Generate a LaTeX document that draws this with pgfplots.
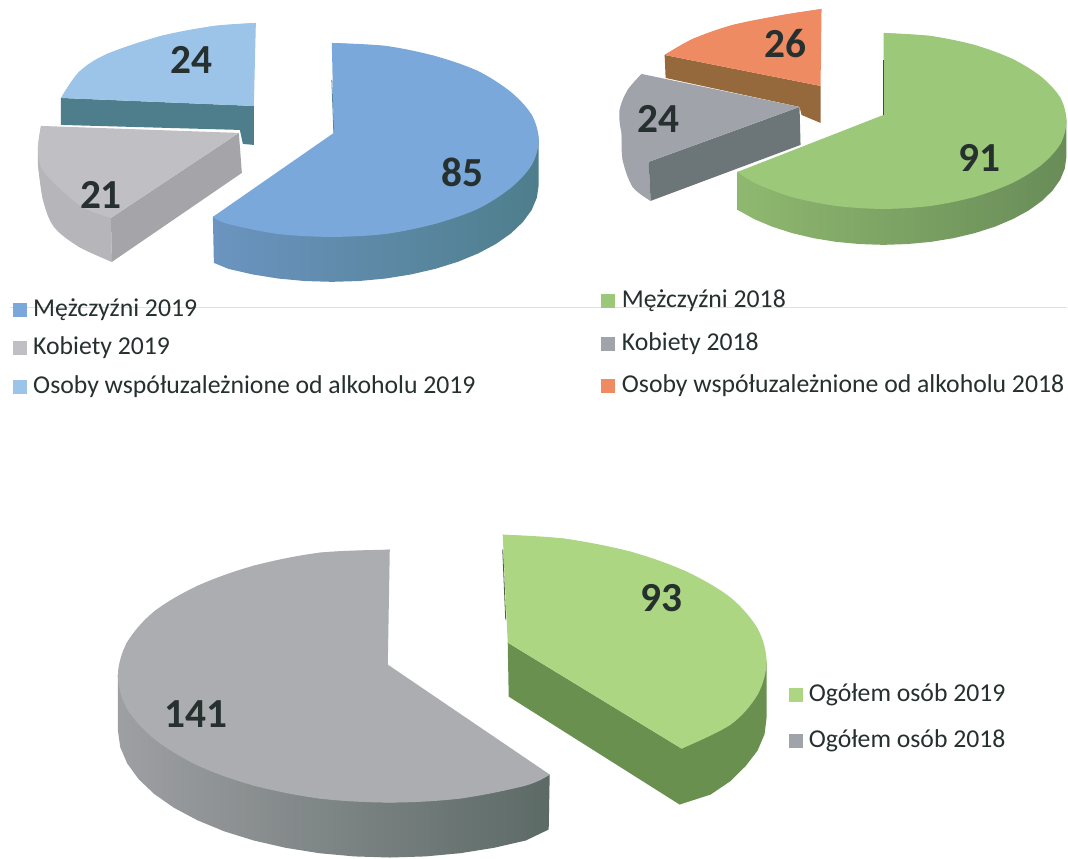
\documentclass[border=0pt]{standalone}
\usepackage{pgfplots}
\pgfplotsset{compat=1.18}
\usepackage{fontspec}
\setmainfont{Carlito}
\definecolor{ablue}{HTML}{7AA8DA}
\definecolor{lblue}{HTML}{9CC3E8}
\definecolor{lgray}{HTML}{C0C0C4}
\definecolor{agreen}{HTML}{9BC879}
\definecolor{aorange}{HTML}{EE8B62}
\definecolor{mgray}{HTML}{A0A4AA}
\definecolor{bgray}{HTML}{ACADB1}
\definecolor{bgreen}{HTML}{ACD681}
\definecolor{txt}{HTML}{26302F}
\definecolor{slate}{HTML}{4E7E8C}
\tikzset{
  lab/.style={font=\fontsize{31}{31}\selectfont\bfseries, text=txt, inner sep=0pt},
  leg/.style={font=\fontsize{19.3}{19.3}\selectfont, text=txt, anchor=west, inner sep=0pt},
}
\pgfplotsset{
  flat/.style={draw=none, mark=none},
  poly/.style={draw=none, mark=none, smooth, tension=0.55},
  key/.style={only marks, color=#1, mark=square*, mark size=4.9pt, mark options={solid, draw=#1, fill=#1}},
}
\begin{document}
\begin{tikzpicture}
\begin{axis}[
  scale only axis, width=801pt, height=644.25pt,
  xmin=0, xmax=1068, ymin=0, ymax=859, y dir=reverse,
  hide axis, clip=false,
]
% page frame
\addplot[flat, fill=white] coordinates {(0,0) (1068,0) (1068,859) (0,859)};
% faint line
\addplot[draw={rgb,255:red,190;green,240;blue,232}, mark=none, line width=0.9pt] coordinates {(10,308) (1068,308)};

% ---- chart 2019
\addplot[flat, fill=slate] coordinates {(61,98) (254,106) (254,145) (243,144) (240,130) (61,125)};
\addplot[flat, fill=lblue] coordinates {(256,23) (214,26) (161,36) (107,54) (79,72) (61,98) (254,106)};
\addplot[poly, fill=lblue] coordinates {(256,23) (214,26) (161,36) (107,54) (79,72) (61,98)};
% gray slice 21
\addplot[flat, fill=black!5!lgray] coordinates {(38,147) (111,218) (112,262) (79,247) (54,227) (43,200) (38,165)};
\addplot[poly, fill=black!5!lgray] coordinates {(38,165) (43,200) (54,227) (79,247) (112,262)};
\addplot[flat, fill=black!14!lgray] coordinates {(111,218) (239,133) (242,173) (112,262)};
\addplot[flat, fill=lgray] coordinates {(41,126) (239,133) (111,218) (82,207) (54,183) (41,167) (38,147)};
\addplot[poly, fill=lgray] coordinates {(41,126) (38,147) (41,167) (54,183) (82,207) (111,218)};
% large blue slice
\addplot[flat, left color=ablue!88!black, right color=slate] coordinates {(213,217) (214,263) (228.5,269) (252.8,274.6) (278.4,278.7) (305,281.2) (332,282) (359,281.2) (385.6,278.7) (411.2,274.6) (435.5,269) (458,262) (478.4,253.6) (496.2,244.1) (511.3,233.5) (523.2,222.1) (532,210.1) (537.2,197.7) (539,185) (539,140)};
\addplot[flat, fill=ablue] coordinates {(332,43) (386,46) (435,56) (478,71) (511,92) (532,115) (539,140) (532,165) (511,188) (478,209) (435,224) (386,234) (332,237) (278,234) (228,224) (213,217) (334,133)};
\addplot[poly, fill=ablue] coordinates {(332,43) (386,46) (435,56) (478,71) (511,92) (532,115) (539,140) (532,165)};
\addplot[poly, fill=ablue] coordinates {(532,115) (539,140) (532,165) (511,188) (478,209) (435,224) (386,234) (332,237) (278,234) (228,224) (213,217)};
\addplot[draw=black!50!teal!30!ablue, mark=none, line width=0.6pt] coordinates {(332,80) (334,133)};

% ---- chart 2018
\addplot[flat, fill={rgb,255:red,150;green,105;blue,60}] coordinates {(665,55) (666,78) (800,107) (802,115) (821,123) (821,86)};
\addplot[flat, fill=aorange] coordinates {(822,9) (783,15) (733,25) (693,39) (665,55) (821,86)};
\addplot[poly, fill=aorange] coordinates {(822,9) (783,15) (733,25) (693,39) (665,55)};
\addplot[flat, fill=mgray] coordinates {(622,133) (649,162) (651,201) (633,187) (623,160)};
\addplot[poly, fill=mgray] coordinates {(622,133) (623,160) (633,187) (651,201)};
\addplot[flat, fill={rgb,255:red,108;green,118;blue,120}] coordinates {(649,162) (800,107) (801,145) (651,201)};
\addplot[flat, fill=mgray] coordinates {(642,74) (800,107) (649,162) (633,153) (622,133) (620,110) (628,90)};
\addplot[poly, fill=mgray] coordinates {(642,74) (628,90) (620,110) (622,133) (633,153) (649,162)};
\addplot[flat, left color=agreen!92!black, right color={rgb,255:red,105;green,140;blue,88}] coordinates {(738,172) (738,210) (754.6,219.2) (772.6,226.8) (792.5,233.2) (814,238.3) (836.6,242) (860.1,244.2) (884,245) (907.9,244.2) (931.4,242) (954,238.3) (975.5,233.2) (995.4,226.8) (1013.4,219.2) (1029.2,210.6) (1042.5,201) (1053.1,190.7) (1060.8,179.8) (1065.4,168.5) (1067,157) (1067,121)};
\addplot[flat, fill=agreen] coordinates {(884,33) (931,36) (975,45) (1013,59) (1042,77) (1061,98) (1067,121) (1061,144) (1042,165) (1013,183) (975,197) (931,206) (884,209) (837,206) (792,197) (755,183) (738,172) (884,115)};
\addplot[poly, fill=agreen] coordinates {(884,33) (931,36) (975,45) (1013,59) (1042,77) (1061,98) (1067,121) (1061,144)};
\addplot[poly, fill=agreen] coordinates {(1061,98) (1067,121) (1061,144) (1042,165) (1013,183) (975,197) (931,206) (884,209) (837,206) (792,197) (755,183) (738,172)};
\addplot[draw=black!60!agreen, mark=none, line width=0.6pt] coordinates {(884,60) (884,115)};

% ---- chart totals
\addplot[flat, left color=bgray!92!black, right color={rgb,255:red,92;green,106;blue,102}] coordinates {(118,676) (118,731) (120.3,747.6) (127.3,763.9) (138.7,779.6) (154.4,794.5) (174.2,808.3) (197.7,820.8) (224.4,831.8) (254,841) (285.9,848.3) (319.6,853.7) (354.5,856.9) (390,858) (425.5,856.9) (460.4,853.7) (494.1,848.3) (526,841) (549,830) (550,775)};
\addplot[flat, fill=bgray] coordinates {(390,550) (320,553) (254,566) (198,586) (154,612) (127,643) (118,676) (127,709) (154,739) (198,766) (254,786) (320,799) (390,803) (460,799) (526,786) (550,775) (388,665)};
\addplot[poly, fill=bgray] coordinates {(390,550) (320,553) (254,566) (198,586) (154,612) (127,643) (118,676) (127,709)};
\addplot[poly, fill=bgray] coordinates {(127,643) (118,676) (127,709) (154,739) (198,766) (254,786) (320,799) (390,803) (460,799) (526,786) (550,775)};
\addplot[flat, fill={rgb,255:red,106;green,144;blue,80}] coordinates {(508,643) (509,697) (680,805) (711,795) (731,781.5) (746,766.6) (758,751) (765,734.6) (767,718) (767,662) (682,749)};
\addplot[flat, fill=bgreen] coordinates {(503,535) (565,539) (631,552) (687,572) (731,598) (758,629) (767,662) (758,695) (731,725) (682,749) (508,643)};
\addplot[poly, fill=bgreen] coordinates {(503,535) (565,539) (631,552) (687,572) (731,598) (758,629) (767,662) (758,695) (731,725) (682,749)};
\addplot[draw=black!55!bgreen, mark=none, line width=0.6pt] coordinates {(503,550) (506,620)};

% ---- legend markers
\addplot[key=ablue] coordinates {(20,310)};
\addplot[key=lgray] coordinates {(20,348)};
\addplot[key=lblue] coordinates {(20,387)};
\addplot[key=agreen] coordinates {(608,301)};
\addplot[key=mgray] coordinates {(608,344)};
\addplot[key=aorange] coordinates {(608,386)};
\addplot[key=bgreen] coordinates {(796,695)};
\addplot[key=mgray] coordinates {(796,741)};

% ---- value labels
\node[lab] at (axis cs:192,60) {24};
\node[lab] at (axis cs:101,195) {21};
\node[lab] at (axis cs:463,172) {85};
\node[lab] at (axis cs:786,44) {26};
\node[lab] at (axis cs:659,119) {24};
\node[lab] at (axis cs:980,158) {91};
\node[lab] at (axis cs:662,598) {93};
\node[lab] at (axis cs:196,714) {141};

% ---- legend text
\node[leg] at (axis cs:33,310) {Mężczyźni 2019};
\node[leg] at (axis cs:33,348) {Kobiety 2019};
\node[leg] at (axis cs:33,387) {Osoby współuzależnione od alkoholu 2019};
\node[leg] at (axis cs:622,301) {Mężczyźni 2018};
\node[leg] at (axis cs:622,344) {Kobiety 2018};
\node[leg] at (axis cs:622,386) {Osoby współuzależnione od alkoholu 2018};
\node[leg] at (axis cs:809,695) {Ogółem osób 2019};
\node[leg] at (axis cs:809,741) {Ogółem osób 2018};
\end{axis}
\end{tikzpicture}
\end{document}
